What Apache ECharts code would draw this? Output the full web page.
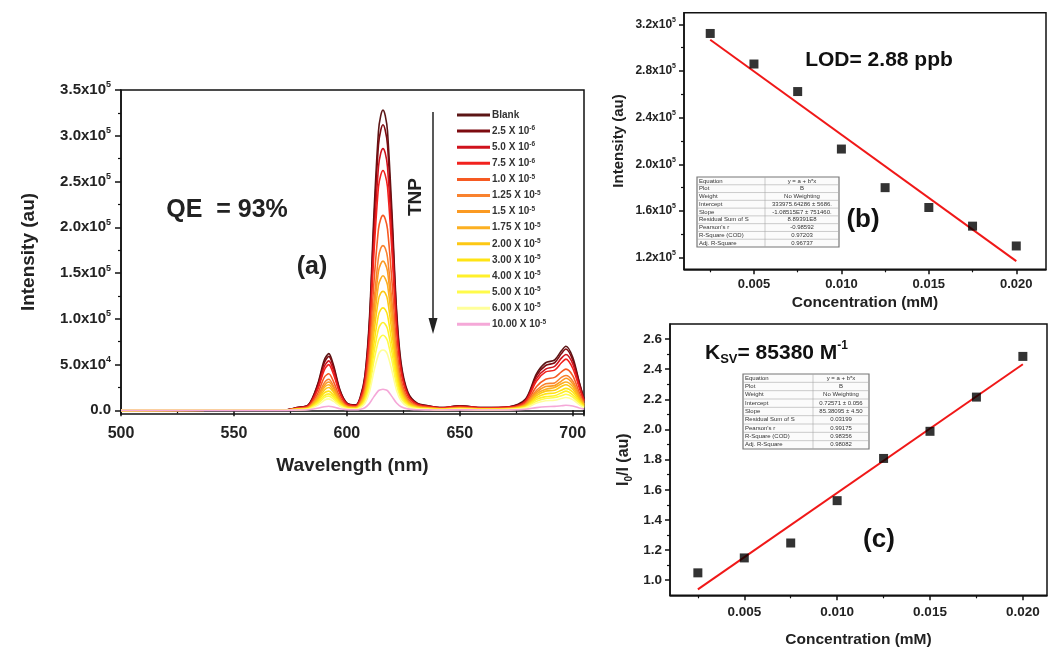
<!DOCTYPE html>
<html><head><meta charset="utf-8">
<script src="https://cdn.jsdelivr.net/npm/echarts@6/dist/echarts.min.js"></script>
<style>html,body{margin:0;padding:0;background:#fff}#c{width:1048px;height:649px}</style>
</head><body><div id="c"></div>
<script>
// ---------- Panel (a): emission spectra (intensity in units of 10^3) ----------
const wavelength = [500,573,578,583,587,590,592,594,597,600, 604,606,608,610,612,614,615,616,617,618, 620,622,624,627,631,636,642,650,660,672, 679,684,688,692,695,697,700,703,705];
const s_blank  = [0,0.5,3,6,28,55,62,50,22,8, 6,15,38,100,215,305,322,328,322,305, 215,110,52,20,8,5,3,5,3,4, 12,40,52,55,65,70,58,30,13];
const s_2p5e6  = [0,0.5,3,6,27,52,59,48,21,8, 5.7,14,36,95,204,290,306,312,306,290, 204,105,49,19,7.6,4.8,3,5,3,4, 11,38,49,52,62,67,55,29,12];
const s_5p0e6  = [0,0.5,2.6,5.2,24,48,54,44,19,7, 5.2,13,33,87,187,266,281,286,281,266, 187,96,45,17,7,4.4,2.6,4.4,2.6,3.5, 10,35,45,48,57,61,51,26,11];
const s_7p5e6  = [0,0.4,2.4,4.8,22,44,50,40,18,6.4, 4.8,12,30,80,172,244,257,262,257,244, 172,88,42,16,6.4,4,2.4,4,2.4,3.2, 9.6,32,42,44,52,56,46,24,10];
const s_1p0e5  = [0,0.3,1.9,3.9,18,36,40,32,14,5.2, 3.9,9.7,25,65,140,198,209,213,209,198, 140,71,34,13,5.2,3.2,1.9,3.2,1.9,2.6, 7.8,26,34,36,42,45,38,19,8.4];
const s_1p25e5 = [0,0.3,1.6,3.3,15,30,34,27,12,4.4, 3.3,8.2,21,55,118,167,177,180,177,167, 118,60,29,11,4.4,2.7,1.6,2.7,1.6,2.2, 6.6,22,29,30,36,38,32,16,7.1];
const s_1p5e5  = [0,0.2,1.5,3,14,27,31,25,11,4, 3,7.5,19,50,107,152,160,163,160,152, 107,55,26,10,4,2.5,1.5,2.5,1.5,2, 6,20,26,27,32,35,29,15,6.5];
const s_1p75e5 = [0,0.2,1.3,2.7,13,25,28,22,9.9,3.6, 2.7,6.7,17,45,96,137,144,147,144,137, 96,49,23,9,3.6,2.2,1.3,2.2,1.3,1.8, 5.4,18,23,25,29,31,26,13,5.8];
const s_2p0e5  = [0,0.2,1.2,2.4,11,22,25,20,8.7,3.2, 2.4,5.9,15,40,85,121,128,130,128,121, 85,44,21,7.9,3.2,2,1.2,2,1.2,1.6, 4.8,16,21,22,26,28,23,12,5.1];
const s_3p0e5  = [0,0.2,1,2,9.5,19,21,17,7.5,2.7, 2,5.1,13,34,73,104,110,112,110,104, 73,38,18,6.8,2.7,1.7,1,1.7,1,1.4, 4.1,14,18,19,22,24,20,10,4.4];
const s_4p0e5  = [0,0.1,0.9,1.8,8.2,16,18,15,6.4,2.3, 1.8,4.4,11,29,63,89,94,96,94,89, 63,32,15,5.9,2.3,1.5,0.9,1.5,0.9,1.2, 3.5,12,15,16,19,21,17,8.8,3.8];
const s_5p0e5  = [0,0.1,0.8,1.5,7,14,15.5,12.5,5.5,2, 1.5,3.8,9.5,25,54,76,80.5,82,80.5,76, 54,27.5,13,5,2,1.3,0.8,1.3,0.8,1, 3,10,13,14,16,17.5,14.5,7.5,3.3];
const s_6p0e5  = [0,0.1,0.6,1.2,5.6,11,12.5,10,4.4,1.6, 1.2,3,7.6,20,43,61,65,66,65,61, 43,22,10.5,4,1.6,1,0.6,1,0.6,0.8, 2.4,8,10.5,11,13,14,11.7,6,2.6];
const s_10e5   = [0,0,0.3,0.6,2.2,4,4.5,3.6,1.7,0.8, 0.6,1.2,2.8,7.5,15,21.5,22.6,23,22.6,21.5, 15,8,4,1.6,0.7,0.5,0.4,0.6,0.4,0.5, 1.2,3,4,4.3,5,5.5,4.8,2.6,1.2];
const spectra = [s_blank,s_2p5e6,s_5p0e6,s_7p5e6,s_1p0e5,s_1p25e5,s_1p5e5,s_1p75e5,s_2p0e5,s_3p0e5,s_4p0e5,s_5p0e5,s_6p0e5,s_10e5];
const legendMantissa = ['Blank','2.5 X 10','5.0 X 10','7.5 X 10','1.0 X 10','1.25 X 10','1.5 X 10','1.75 X 10','2.00 X 10','3.00 X 10','4.00 X 10','5.00 X 10','6.00 X 10','10.00 X 10'];
const legendExponent = ['','-6','-6','-6','-5','-5','-5','-5','-5','-5','-5','-5','-5','-5'];
const spectraColors = ['#5c1616','#7d0b10','#d0121c','#f2221e','#f65a22','#f9822e','#fb9a22','#fcb022','#fdc814','#ffe414','#fff02a','#fffb4a','#ffff9a','#f5a8d8'];
const yTicksA = [0,50,100,150,200,250,300,350];
const yMinorA = [25,75,125,175,225,275,325];

// ---------- Panel (b): intensity vs concentration ----------
const concB = [0.0025,0.005,0.0075,0.010,0.0125,0.015,0.0175,0.020];
const intensityB = [312.2,286,262.4,213.1,180,163,147,130];
const fitBx = [0.0025,0.020];
const fitBy = [306.8,117.0];
const yTicksB = [120,160,200,240,280,320];
const yMinorB = [140,180,220,260,300];

// ---------- Panel (c): Stern-Volmer ----------
const concC = [0.0025,0.005,0.0075,0.010,0.0125,0.015,0.0175,0.020];
const ratioC = [1.049,1.148,1.247,1.528,1.808,1.988,2.215,2.485];
const fitCx = [0.0025,0.020];
const fitCy = [0.939,2.433];
const yTicksC = [1.0,1.2,1.4,1.6,1.8,2.0,2.2,2.4,2.6];
const yMinorC = [1.1,1.3,1.5,1.7,1.9,2.1,2.3,2.5];
const xTicksBC = [0.005,0.010,0.015,0.020];
const xMinorBC = [0.0025,0.0075,0.0125,0.0175];

// ---------- Fit tables ----------
const tableRowLabels = ['Equation','Plot','Weight','Intercept','Slope','Residual Sum of S','Pearson\'s r','R-Square (COD)','Adj. R-Square'];
const tableBValues = ['y = a + b*x','B','No Weighting','333975.64286 ± 5686.','-1.08515E7 ± 751460.','8.89391E8','-0.98592','0.97203','0.96737'];
const tableCValues = ['y = a + b*x','B','No Weighting','0.72571 ± 0.056','85.38095 ± 4.50','0.03199','0.99175','0.98356','0.98082'];

const FONT = '"Liberation Sans", Arial, sans-serif';
const chart = echarts.init(document.getElementById('c'), null, {renderer:'canvas'});

function sciK(v){
  if (v === 0) return '{m|0.0}';
  if (v < 100) return '{m|' + (v/10).toFixed(1) + 'x10}{e|4}';
  return '{m|' + (v/100).toFixed(1) + 'x10}{e|5}';
}
function richSci(fs){
  return { m:{fontSize:fs, fontWeight:'bold', fontFamily:FONT, color:'#222', lineHeight:fs+4},
           e:{fontSize:Math.round(fs*0.62), fontWeight:'bold', fontFamily:FONT, color:'#222', lineHeight:Math.round(fs*0.62)+1, verticalAlign:'top'} };
}
const axisLineStyle = {show:true, lineStyle:{color:'#111', width:1.5}};

function table(x, y, w, h, split, values){
  const n = tableRowLabels.length, rh = h/n, ch = [];
  ch.push({type:'rect', shape:{x:x, y:y, width:w, height:h}, style:{fill:'#fbfbfb', stroke:'#777', lineWidth:1.2}});
  for (let i=1;i<n;i++) ch.push({type:'line', shape:{x1:x, y1:y+i*rh, x2:x+w, y2:y+i*rh}, style:{stroke:'#aaa', lineWidth:0.6}});
  ch.push({type:'line', shape:{x1:x+split, y1:y, x2:x+split, y2:y+h}, style:{stroke:'#aaa', lineWidth:0.6}});
  for (let i=0;i<n;i++){
    ch.push({type:'text', x:x+2, y:y+rh*(i+0.5), style:{text:tableRowLabels[i], font:'6px '+FONT, fill:'#333', verticalAlign:'middle', align:'left'}});
    ch.push({type:'text', x:x+split+(w-split)/2, y:y+rh*(i+0.5), style:{text:values[i], font:'6px '+FONT, fill:'#333', verticalAlign:'middle', align:'center'}});
  }
  return {type:'group', children:ch};
}

const seriesA = spectra.map((d,i)=>({
  type:'line', name: legendMantissa[i] + legendExponent[i], xAxisIndex:0, yAxisIndex:0,
  data: wavelength.map((w,j)=>[w,d[j]]), showSymbol:false, smooth:0.3,
  lineStyle:{width:1.6, color:spectraColors[i]}, itemStyle:{color:spectraColors[i]}, z:2
}));

const option = {
  animation:false,
  backgroundColor:'#fff',
  grid:[
    {left:121, top:90, width:463, height:324, show:true, borderColor:'#111', borderWidth:1.5},
    {left:684, top:12.7, width:362, height:256.6, show:true, borderColor:'#111', borderWidth:1.5},
    {left:670, top:324, width:377, height:271.3, show:true, borderColor:'#111', borderWidth:1.5}
  ],
  legend:{
    orient:'vertical', left:452, top:105, itemWidth:33, itemHeight:3, itemGap:5.1, icon:'rect',
    data: seriesA.map(s=>s.name),
    formatter: function(name){
      const i = seriesA.findIndex(s=>s.name===name);
      return legendExponent[i] ? '{m|'+legendMantissa[i]+'}{e|'+legendExponent[i]+'}' : '{m|'+legendMantissa[i]+'}';
    },
    textStyle:{padding:[0,0,0,-3], rich:{
      m:{fontSize:10, fontWeight:'bold', fontFamily:FONT, color:'#333', lineHeight:12},
      e:{fontSize:6.5, fontWeight:'bold', fontFamily:FONT, color:'#333', lineHeight:7, verticalAlign:'top'}
    }}
  },
  xAxis:[
    {gridIndex:0, type:'value', min:500, max:705, interval:50, position:'bottom',
     axisLine:axisLineStyle, axisTick:{show:true, length:6, lineStyle:{color:'#111', width:1.5}},
     minorTick:{show:true, splitNumber:2, length:3, lineStyle:{color:'#111', width:1.2}},
     splitLine:{show:false},
     axisLabel:{margin:12, fontSize:16, fontWeight:'bold', fontFamily:FONT, color:'#222', showMaxLabel:false},
     name:'Wavelength (nm)', nameLocation:'middle', nameGap:42,
     nameTextStyle:{fontSize:19, fontWeight:'bold', fontFamily:FONT, color:'#222'}},
    {gridIndex:1, type:'value', min:0.001, max:0.0217, position:'bottom',
     axisLine:axisLineStyle, axisTick:{show:true, length:5, customValues:xTicksBC, lineStyle:{color:'#111', width:1.5}},
     splitLine:{show:false},
     axisLabel:{margin:9, customValues:xTicksBC, formatter:v=>v.toFixed(3), fontSize:13, fontWeight:'bold', fontFamily:FONT, color:'#222'},
     name:'Concentration (mM)', nameLocation:'middle', nameGap:25,
     nameTextStyle:{fontSize:15.5, fontWeight:'bold', fontFamily:FONT, color:'#222'}},
    {gridIndex:1, type:'value', min:0.001, max:0.0217, position:'bottom',
     axisLine:{show:false}, axisTick:{show:true, length:3, customValues:xMinorBC, lineStyle:{color:'#111', width:1.2}},
     splitLine:{show:false}, axisLabel:{show:false}},
    {gridIndex:2, type:'value', min:0.001, max:0.0213, position:'bottom',
     axisLine:axisLineStyle, axisTick:{show:true, length:5, customValues:xTicksBC, lineStyle:{color:'#111', width:1.5}},
     splitLine:{show:false},
     axisLabel:{margin:10, customValues:xTicksBC, formatter:v=>v.toFixed(3), fontSize:13.5, fontWeight:'bold', fontFamily:FONT, color:'#222'},
     name:'Concentration (mM)', nameLocation:'middle', nameGap:36,
     nameTextStyle:{fontSize:15.5, fontWeight:'bold', fontFamily:FONT, color:'#222'}},
    {gridIndex:2, type:'value', min:0.001, max:0.0213, position:'bottom',
     axisLine:{show:false}, axisTick:{show:true, length:3, customValues:xMinorBC, lineStyle:{color:'#111', width:1.2}},
     splitLine:{show:false}, axisLabel:{show:false}}
  ],
  yAxis:[
    {gridIndex:0, type:'value', min:-4, max:350, position:'left',
     axisLine:axisLineStyle, axisTick:{show:true, length:6, customValues:yTicksA, lineStyle:{color:'#111', width:1.5}},
     splitLine:{show:false},
     axisLabel:{margin:10, customValues:yTicksA, formatter:sciK, rich:richSci(15)},
     name:'Intensity (au)', nameLocation:'middle', nameGap:83,
     nameTextStyle:{fontSize:19, fontWeight:'bold', fontFamily:FONT, color:'#222'}},
    {gridIndex:0, type:'value', min:-4, max:350, position:'left',
     axisLine:{show:false}, axisTick:{show:true, length:3, customValues:yMinorA, lineStyle:{color:'#111', width:1.2}},
     splitLine:{show:false}, axisLabel:{show:false}},
    {gridIndex:1, type:'value', min:110, max:330, position:'left',
     axisLine:axisLineStyle, axisTick:{show:true, length:5, customValues:yTicksB, lineStyle:{color:'#111', width:1.5}},
     splitLine:{show:false},
     axisLabel:{margin:8, customValues:yTicksB, formatter:sciK, rich:richSci(12)},
     name:'Intensity (au)', nameLocation:'middle', nameGap:58,
     nameTextStyle:{fontSize:15, fontWeight:'bold', fontFamily:FONT, color:'#222'}},
    {gridIndex:1, type:'value', min:110, max:330, position:'left',
     axisLine:{show:false}, axisTick:{show:true, length:3, customValues:yMinorB, lineStyle:{color:'#111', width:1.2}},
     splitLine:{show:false}, axisLabel:{show:false}},
    {gridIndex:2, type:'value', min:0.9, max:2.7, position:'left',
     axisLine:axisLineStyle, axisTick:{show:true, length:5, customValues:yTicksC, lineStyle:{color:'#111', width:1.5}},
     splitLine:{show:false},
     axisLabel:{margin:8, customValues:yTicksC, formatter:v=>v.toFixed(1), fontSize:13.5, fontWeight:'bold', fontFamily:FONT, color:'#222'},
     name:'{a|I}{s|0}{a|/I (au)}', nameLocation:'middle', nameGap:36,
     nameTextStyle:{rich:{
       a:{fontSize:16, fontWeight:'bold', fontFamily:FONT, color:'#222', lineHeight:20},
       s:{fontSize:10, fontWeight:'bold', fontFamily:FONT, color:'#222', lineHeight:10, verticalAlign:'bottom'}}}},
    {gridIndex:2, type:'value', min:0.9, max:2.7, position:'left',
     axisLine:{show:false}, axisTick:{show:true, length:3, customValues:yMinorC, lineStyle:{color:'#111', width:1.2}},
     splitLine:{show:false}, axisLabel:{show:false}}
  ],
  series: seriesA.concat([
    {type:'line', xAxisIndex:1, yAxisIndex:2, data: fitBx.map((x,i)=>[x,fitBy[i]]), showSymbol:false,
     lineStyle:{color:'#f01818', width:2}, z:3},
    {type:'scatter', xAxisIndex:1, yAxisIndex:2, data: concB.map((x,i)=>[x,intensityB[i]]),
     symbol:'rect', symbolSize:9, itemStyle:{color:'#000'}, z:4},
    {type:'line', xAxisIndex:3, yAxisIndex:4, data: fitCx.map((x,i)=>[x,fitCy[i]]), showSymbol:false,
     lineStyle:{color:'#f01818', width:2}, z:3},
    {type:'scatter', xAxisIndex:3, yAxisIndex:4, data: concC.map((x,i)=>[x,ratioC[i]]),
     symbol:'rect', symbolSize:9, itemStyle:{color:'#000'}, z:4}
  ]),
  graphic:[
    {type:'text', x:227, y:210, style:{text:'QE  = 93%', font:'bold 25px '+FONT, fill:'#222', align:'center', verticalAlign:'middle'}},
    {type:'text', x:312, y:267, style:{text:'(a)', font:'bold 25px '+FONT, fill:'#222', align:'center', verticalAlign:'middle'}},
    {type:'text', x:416, y:197, rotation:Math.PI/2, style:{text:'TNP', font:'bold 19px '+FONT, fill:'#222', align:'center', verticalAlign:'middle'}},
    {type:'line', shape:{x1:433, y1:112, x2:433, y2:322}, style:{stroke:'#222', lineWidth:1.5}},
    {type:'polygon', shape:{points:[[428.5,318],[437.5,318],[433,334]]}, style:{fill:'#222'}},
    {type:'text', x:879, y:60, style:{text:'LOD= 2.88 ppb', font:'bold 21px '+FONT, fill:'#111', align:'center', verticalAlign:'middle'}},
    {type:'text', x:863, y:220, style:{text:'(b)', font:'bold 26px '+FONT, fill:'#111', align:'center', verticalAlign:'middle'}},
    {type:'text', x:705, y:353, style:{text:'{a|K}{s|SV}{a|= 85380 M}{p|-1}', align:'left', verticalAlign:'middle',
      rich:{a:{font:'bold 21px '+FONT, fill:'#111', lineHeight:26},
            s:{font:'bold 13px '+FONT, fill:'#111', lineHeight:13, verticalAlign:'bottom'},
            p:{font:'bold 12px '+FONT, fill:'#111', lineHeight:12, verticalAlign:'top'}}}},
    {type:'text', x:879, y:540, style:{text:'(c)', font:'bold 26px '+FONT, fill:'#111', align:'center', verticalAlign:'middle'}},
    table(697, 177, 142, 70, 68, tableBValues),
    table(743, 374, 126, 75, 70, tableCValues)
  ]
};
chart.setOption(option);
</script></body></html>
